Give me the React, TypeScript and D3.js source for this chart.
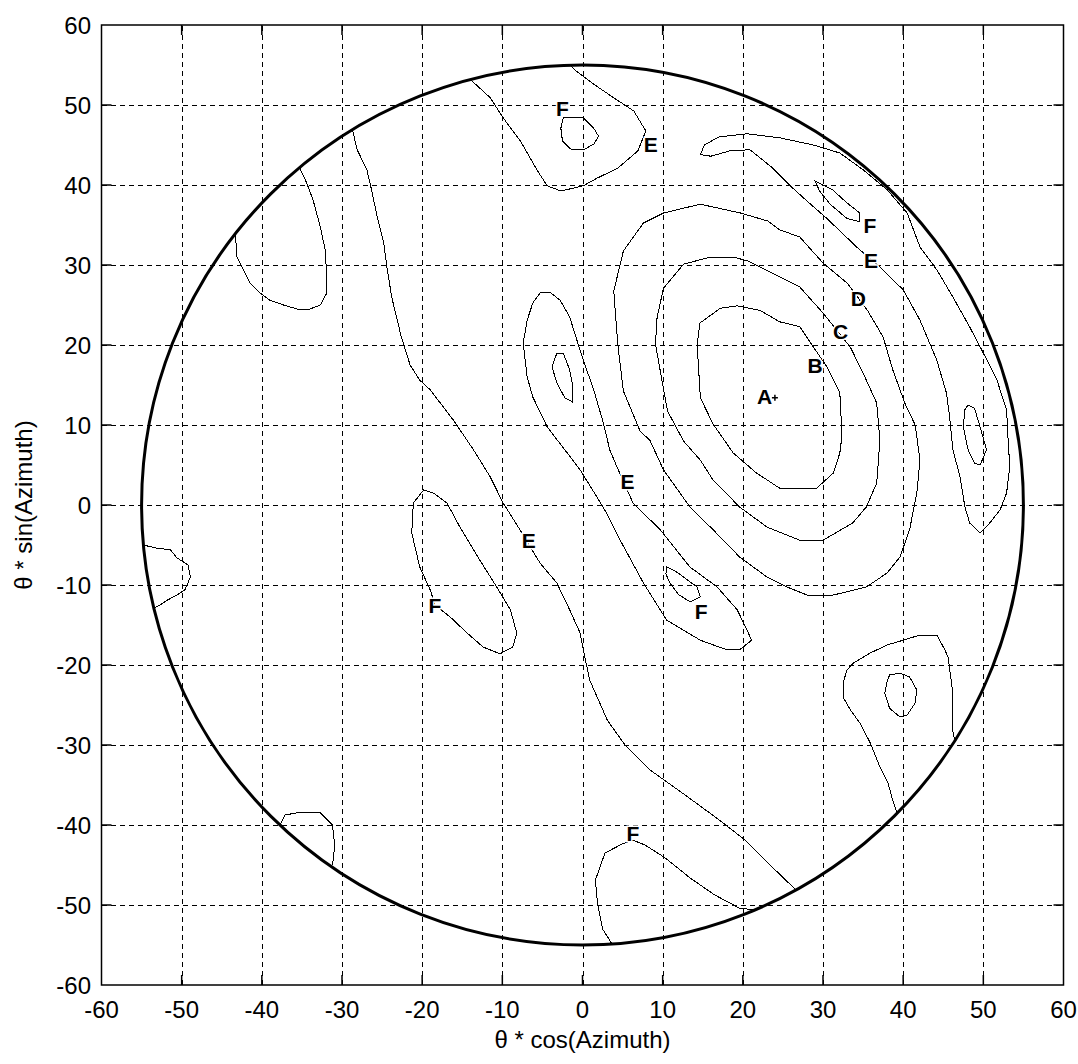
import React from 'react';
import * as d3 from 'd3';

type Pt = [number, number];

// axis ticks
const tickValues = [-60, -50, -40, -30, -20, -10, 0, 10, 20, 30, 40, 50, 60];
const gridValues = [-50, -40, -30, -20, -10, 0, 10, 20, 30, 40, 50];
const rimRadius = 55;

// closed contours around the main lobe
const contourB: Pt[] = [[19.3, 24.9], [22.2, 24.3], [24.6, 22.9], [27.1, 22.3], [28.8, 19.75], [30.5, 17.25], [32.1, 14], [32.3, 10], [32.3, 8.1], [32.1, 6.5], [31.3, 4], [29.2, 2.1], [24.6, 2.1], [21.7, 4], [18.8, 6.5], [16.3, 10.1], [14.7, 13.4], [14.3, 20.1], [14.65, 22.75], [17.2, 24.6]];
const contourC: Pt[] = [[12.6, 30.1], [15.6, 30.9], [18.8, 31.0], [20.6, 30.5], [23.8, 28.9], [27.1, 27.25], [30, 24], [33.4, 19.75], [35, 16.5], [36.7, 12.75], [37.1, 8.1], [36.7, 2.75], [35.4, -0.25], [33.7, -2.25], [30, -4.4], [27.1, -4.4], [23, -2.75], [19.6, -0.25], [16.3, 3.1], [14.7, 5.6], [12.6, 8], [10.6, 11.75], [10, 15.1], [9.1, 20.1], [9.3, 23.4], [10.1, 27.1]];
const contourD: Pt[] = [[7.6, 35.25], [10.1, 36.5], [14.7, 37.6], [19.7, 36.5], [23.1, 35.5], [24.6, 34.4], [27.1, 33.5], [30, 30.25], [33, 27.75], [35.5, 24.4], [37.5, 21], [38.7, 16.9], [40.2, 12.75], [41.5, 10], [42.1, 5.6], [41.7, 1.5], [40.8, -3.1], [39.6, -6.5], [38, -8.5], [35.4, -10.25], [31.3, -11.25], [28, -11.25], [25.5, -10.25], [23, -9], [19.6, -6.5], [16.3, -3.1], [13.4, -0.25], [10.1, 4.4], [8.4, 8.1], [7.2, 9.2], [5.1, 14.25], [4.4, 20.1], [3.9, 26.75], [5.1, 31.75]];
const contourERim: Pt[] = [[14.7, 43.8], [15.2, 45], [17, 46], [20.5, 46.4], [24.6, 45.9], [28.8, 45], [32.1, 44], [35, 41.9], [38, 39.4], [40.5, 36.5], [42.1, 32.25], [44.2, 29.4], [46.2, 26], [48.3, 22.25], [50, 19], [51.7, 15.6], [52.9, 11.9], [53.1, 8], [53.3, 4.75], [52.9, 1.5], [52.1, -0.6], [50.8, -2.25], [49.6, -3.5], [48.3, -2.25], [47.7, -0.25], [47.1, 3.5], [46.2, 6.9], [45.8, 11], [45.4, 14], [44.2, 18.1], [42.1, 23.1], [40, 26.9], [37.1, 29.75], [34.2, 32.25], [30.5, 35.8], [28, 38], [25.8, 40], [23.5, 42.3], [20.9, 44.4], [18.5, 44.3], [16, 43.6]];
const contourFRim: Pt[] = [[29, 40.5], [31.2, 39.4], [33, 37.75], [34.6, 36.5], [34.6, 35.4], [33, 35.8], [30.9, 37.6], [29.6, 39.2]];
const contourFRight: Pt[] = [[48.1, 12.5], [48.9, 12.1], [49.6, 9.75], [50.4, 6.9], [49.6, 5], [48.9, 5.25], [48.1, 6.9], [47.5, 9.75], [47.7, 11.9]];

// elongated trough left of the lobe
const contourEBand: Pt[] = [[-4.05, 26.6], [-2.8, 25.6], [-1.6, 23.5], [-0.7, 20.6], [0.1, 18.1], [1.4, 14.4], [2.6, 10.25], [3.4, 6.9], [4.3, 4.75], [5.3, 2.5], [6.3, 0.25], [9.7, -3.1], [13.4, -7.75], [16.8, -10.25], [19.3, -13.1], [20.5, -15.6], [21.1, -16.9], [19.6, -18.1], [18, -18.1], [14.7, -16.9], [10.5, -14.4], [7.6, -9.75], [4.7, -4.4], [3, -1], [1.8, 1], [-0.3, 4.4], [-1.9, 6.5], [-4.4, 9.75], [-6.2, 13.5], [-6.9, 16], [-7.4, 20.25], [-6.9, 23.1], [-6.2, 25.25], [-5.3, 26.5]];
const contourEBandInner: Pt[] = [[-3.2, 19], [-2.4, 19], [-1.6, 16.9], [-1.2, 14.75], [-1.3, 12.9], [-2.2, 13.4], [-3.2, 15.25], [-3.8, 17.25]];
const contourFBand: Pt[] = [[10.5, -7.75], [11.5, -8.2], [14.3, -10.25], [14.7, -11.5], [13.4, -12.1], [12, -11.2], [10.9, -9.75], [10.4, -8.6]];
const contourFLeft: Pt[] = [[-19.8, 1.9], [-18.6, 1.5], [-16.9, 0.25], [-15.3, -2.75], [-12.8, -6.9], [-10.7, -10.25], [-9, -13.1], [-8.2, -16], [-8.7, -17.75], [-10.3, -18.6], [-12.4, -17.75], [-14.4, -16], [-16.5, -14], [-18.4, -12.5], [-19, -10.6], [-20.3, -7.75], [-21.3, -3.5], [-21.1, 0.25]];
const contourFTopInner: Pt[] = [[-2.4, 48.4], [0.1, 48.4], [1.4, 47.1], [2, 46.1], [1.4, 45.1], [0.1, 44.4], [-1.5, 44.5], [-2.5, 45.5], [-2.7, 47.1]];
const contourSEInner: Pt[] = [[38.3, -21.25], [39.6, -21], [40.8, -21.5], [41.7, -23.1], [41.5, -24.75], [40.5, -26.25], [39.6, -26.5], [38.3, -25.4], [37.7, -23.5], [38, -22.1]];

// open contours that end on the rim
const contourEDiagonal: Pt[] = [[-28.7, 46.9], [-28.1, 44.4], [-26.9, 41.9], [-26.5, 40.25], [-25.6, 36], [-24.8, 32.75], [-24.4, 29.75], [-23.8, 26], [-22.6, 21], [-21.5, 17.5], [-20.3, 15.6], [-19, 14.4], [-16.1, 10.6], [-13.6, 6.9], [-11.5, 3.5], [-9.9, 0.25], [-7.8, -3.1], [-5.3, -7.25], [-3.2, -9.75], [-1.6, -13.1], [-0.3, -16], [0.1, -18.1], [0.9, -21.9], [3.1, -26.9], [5.3, -30], [8.4, -33.1], [12.8, -36.25], [17.1, -39.4], [20.3, -41.9], [23.4, -45], [26.5, -48]];
const contourTop: Pt[] = [[-14, 53.2], [-11.5, 50.9], [-9.9, 48.4], [-7.75, 45.5], [-5.6, 41.75], [-4.4, 39.9], [-2.7, 39.25], [0.1, 39.9], [1.9, 40.9], [4.4, 42.1], [6.9, 44.25], [7.9, 46.75], [6.4, 49.25], [3.9, 50.9], [1.4, 52.6], [-1.1, 54.5], [-1.5, 55]];
const contourNW: Pt[] = [[-43.3, 33.9], [-43.1, 31], [-42.3, 29.4], [-41.5, 27.75], [-40.2, 26.5], [-39, 25.6], [-37.3, 25], [-35.6, 24.5], [-34, 24.5], [-32.7, 25], [-31.9, 26.5], [-31.9, 28.5], [-32.1, 31.9], [-32.7, 34.75], [-33.6, 38.1], [-34.4, 40.25], [-35.3, 42.2]];
const contourW: Pt[] = [[-54.8, -5], [-53.1, -5.4], [-51.4, -5.6], [-50.6, -6.6], [-49.2, -7.5], [-48.9, -9], [-49.6, -10.6], [-50.6, -11.25], [-51.8, -11.9], [-52.7, -12.5], [-53.5, -12.9]];
const contourSW: Pt[] = [[-37.75, -40], [-37.1, -38.75], [-35.2, -38.4], [-32.7, -38.5], [-31.2, -40], [-30.9, -42.5], [-31.1, -44.4], [-31.3, -45.2]];
const contourFBottom: Pt[] = [[3.7, -54.9], [2.5, -53], [1.9, -50], [1.6, -46.9], [2.8, -43.5], [4.9, -42.4], [6.3, -41.9], [7.8, -42.5], [10.3, -44.1], [13.4, -46.6], [16.5, -48.75], [19.6, -50.4], [21.5, -50.6]];
const contourSE: Pt[] = [[46.4, -29.3], [46.1, -27.75], [46.1, -22.75], [45.6, -19], [45.2, -18.1], [44.2, -16.25], [42.1, -16.25], [40, -16.9], [38, -17.5], [35.9, -18.5], [33.8, -19.75], [33, -20.6], [32.5, -22.25], [32.5, -24], [33.4, -25.6], [34.6, -27.25], [35.9, -29.75], [37.1, -32.75], [38.1, -34.75], [38.7, -36.9], [39.2, -38.4]];

const closedContours = [contourB, contourC, contourD, contourERim, contourFRim, contourFRight, contourEBand, contourEBandInner, contourFBand, contourFLeft, contourFTopInner, contourSEInner];
const openContours = [contourEDiagonal, contourTop, contourNW, contourW, contourSW, contourFBottom, contourSE];

// contour level labels
const labelText = ['F', 'E', 'F', 'E', 'D', 'C', 'B', 'A', 'E', 'E', 'F', 'F', 'F'];
const labelX = [-2.5, 8.5, 35.85, 36, 34.4, 32.2, 29, 22.7, 5.6, -6.7, -18.4, 14.8, 6.3];
const labelY = [49.6, 45.1, 35, 30.6, 25.8, 21.7, 17.5, 13.6, 2.9, -4.4, -12.5, -13.3, -41];
const peak: Pt = [24, 13.4];

const W = 1078;
const H = 1064;
const FONT = '"Liberation Sans", Arial, sans-serif';

export default function App() {
  const x = d3.scaleLinear().domain([-60, 60]).range([101.5, 1063.5]);
  const y = d3.scaleLinear().domain([-60, 60]).range([985, 25]);
  const [x0, x1] = x.range();
  const [y0, y1] = y.range();
  const tickLen = 10;

  const lineOpen = d3.line<Pt>().x(d => x(d[0])).y(d => y(d[1]));
  const lineClosed = d3.line<Pt>().x(d => x(d[0])).y(d => y(d[1])).curve(d3.curveLinearClosed);

  return (
    <svg width={W} height={H} style={{ position: 'absolute', left: 0, top: 0, background: '#fff' }}>
      {/* grid */}
      <g stroke="#000" strokeWidth={1} strokeDasharray="5,4" shapeRendering="crispEdges">
        {gridValues.map(v => (
          <line key={'gx' + v} x1={Math.round(x(v)) + 0.5} x2={Math.round(x(v)) + 0.5} y1={y0} y2={y1} />
        ))}
        {gridValues.map(v => (
          <line key={'gy' + v} y1={Math.round(y(v)) + 0.5} y2={Math.round(y(v)) + 0.5} x1={x0} x2={x1} />
        ))}
      </g>

      {/* contours */}
      <g fill="none" stroke="#000" strokeWidth={1} shapeRendering="crispEdges">
        {closedContours.map((c, i) => <path key={'c' + i} d={lineClosed(c) || ''} />)}
        {openContours.map((c, i) => <path key={'o' + i} d={lineOpen(c) || ''} />)}
      </g>

      {/* rim */}
      <ellipse cx={x(0)} cy={y(0)} rx={x(rimRadius) - x(0)} ry={y(0) - y(rimRadius)} fill="none" stroke="#000" strokeWidth={3} />

      {/* peak marker */}
      <path
        d={`M${x(peak[0]) - 3},${y(peak[1])}H${x(peak[0]) + 3}M${x(peak[0])},${y(peak[1]) - 3}V${y(peak[1]) + 3}`}
        stroke="#000" strokeWidth={1.5} fill="none"
      />

      {/* contour labels */}
      <g fontFamily={FONT} fontWeight="bold" fontSize={21} textAnchor="middle">
        {labelText.map((t, i) => (
          <text key={'l' + i} x={x(labelX[i])} y={y(labelY[i])} dy="0.36em"
            stroke="#fff" strokeWidth={3} paintOrder="stroke" fill="#000">{t}</text>
        ))}
      </g>

      {/* axes box + ticks */}
      <rect x={x0} y={y1} width={x1 - x0} height={y0 - y1} fill="none" stroke="#000" strokeWidth={1.5} />
      <g stroke="#000" strokeWidth={1.5}>
        {gridValues.map(v => (
          <g key={'t' + v}>
            <line x1={x(v)} x2={x(v)} y1={y0} y2={y0 - tickLen} />
            <line x1={x(v)} x2={x(v)} y1={y1} y2={y1 + tickLen} />
            <line y1={y(v)} y2={y(v)} x1={x0} x2={x0 + tickLen} />
            <line y1={y(v)} y2={y(v)} x1={x1} x2={x1 - tickLen} />
          </g>
        ))}
      </g>

      {/* tick labels */}
      <g fontFamily={FONT} fontSize={24} fill="#000">
        {tickValues.map(v => (
          <text key={'xl' + v} x={x(v)} y={1018} textAnchor="middle">{String(v)}</text>
        ))}
        {tickValues.map(v => (
          <text key={'yl' + v} x={91} y={y(v)} dy="0.36em" textAnchor="end">{String(v)}</text>
        ))}
      </g>

      {/* axis titles */}
      <text x={x(0)} y={1048} textAnchor="middle" fontFamily={FONT} fontSize={24}>θ * cos(Azimuth)</text>
      <text transform={`translate(32,${y(0)}) rotate(-90)`} textAnchor="middle" fontFamily={FONT} fontSize={24}>θ * sin(Azimuth)</text>
    </svg>
  );
}
